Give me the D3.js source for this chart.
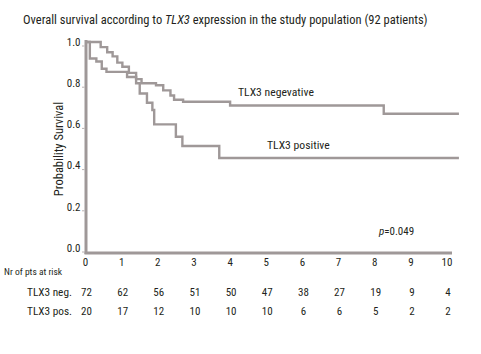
<!DOCTYPE html>
<html><head><meta charset="utf-8">
<script src="https://cdn.jsdelivr.net/npm/d3@7"></script>
<style>
body{margin:0;background:#fff;}
text{font-family:"Liberation Sans Narrow","Arial Narrow","Roboto Condensed",sans-serif;fill:#231f20;}
</style></head><body>
<svg id="c" width="481" height="354"></svg>
<script>
const yearTicks = [0,1,2,3,4,5,6,7,8,9,10];
const survTicks = [0.0,0.2,0.4,0.6,0.8,1.0];
const negTimes = [0,0.42,0.6,0.75,0.88,1.02,1.2,1.4,1.55,1.95,2.15,2.35,2.45,2.7,4.0,8.25,10.33];
const negSurv  = [1.0,0.975,0.95,0.93,0.90,0.88,0.85,0.82,0.80,0.79,0.765,0.74,0.72,0.71,0.692,0.652,0.652];
const posTimes = [0,0.12,0.3,0.45,0.58,1.15,1.4,1.5,1.7,1.85,1.9,2.5,2.68,3.7,10.33];
const posSurv  = [1.0,0.92,0.905,0.87,0.855,0.83,0.80,0.75,0.705,0.67,0.60,0.54,0.495,0.437,0.437];
const atRiskNeg = [72,62,56,51,50,47,38,27,19,9,4];
const atRiskPos = [20,17,12,10,10,10,6,6,5,2,2];

const svg = d3.select("#c");
const x = d3.scaleLinear().domain([0,10]).range([85.5,447]);
const y = d3.scaleLinear().domain([0,1]).range([248,42]);
const lineCol = "#9f9898";

svg.append("text").attr("x",23).attr("y",24).attr("font-size",12.5)
  .html('Overall survival according to <tspan font-style="italic">TLX3</tspan> expression in the study population (92 patients)');

svg.append("line").attr("x1",86).attr("x2",86).attr("y1",40).attr("y2",254)
  .attr("stroke",lineCol).attr("stroke-width",3);
svg.append("line").attr("x1",84.5).attr("x2",452).attr("y1",253).attr("y2",253)
  .attr("stroke",lineCol).attr("stroke-width",3);

survTicks.forEach(v=>{
  svg.append("text").attr("x",80.5).attr("y",y(v)).attr("dy","0.35em")
    .attr("text-anchor","end").attr("font-size",11).text(v.toFixed(1));
  svg.append("line").attr("x1",82).attr("x2",84.5).attr("y1",y(v)+4).attr("y2",y(v)+4)
    .attr("stroke","#b8b2b2").attr("stroke-width",1);
});
yearTicks.forEach(v=>{
  svg.append("text").attr("x",x(v)).attr("y",262).attr("dy","0.35em")
    .attr("text-anchor","middle").attr("font-size",11).text(v);
});

svg.append("text").attr("transform","translate(63,149) rotate(-90)")
  .attr("text-anchor","middle").attr("font-size",12.5).text("Probability Survival");

const line = d3.line().x(d=>x(d[0])).y(d=>y(d[1])).curve(d3.curveStepAfter);
const neg = negTimes.map((t,i)=>[t,negSurv[i]]);
const pos = posTimes.map((t,i)=>[t,posSurv[i]]);
[pos,neg].forEach(d=>{
  svg.append("path").attr("d",line(d)).attr("fill","none")
    .attr("stroke",lineCol).attr("stroke-width",2.4);
});

svg.append("text").attr("x",238).attr("y",92).attr("dy","0.35em").attr("font-size",11.7).text("TLX3 negevative");
svg.append("text").attr("x",267).attr("y",145).attr("dy","0.35em").attr("font-size",11.7).text("TLX3 positive");
svg.append("text").attr("x",379).attr("y",231.5).attr("dy","0.35em").attr("font-size",11)
  .html('<tspan font-style="italic">p</tspan>=0.049');

svg.append("text").attr("x",4).attr("y",271.5).attr("dy","0.35em").attr("font-size",9.5).text("Nr of pts at risk");
svg.append("text").attr("x",27).attr("y",292).attr("dy","0.35em").attr("font-size",11.3).text("TLX3 neg.");
svg.append("text").attr("x",27).attr("y",311).attr("dy","0.35em").attr("font-size",11.3).text("TLX3 pos.");
atRiskNeg.forEach((v,i)=>{
  svg.append("text").attr("x",x(yearTicks[i])+1).attr("y",292).attr("dy","0.35em")
    .attr("text-anchor","middle").attr("font-size",11).text(v);
});
atRiskPos.forEach((v,i)=>{
  svg.append("text").attr("x",x(yearTicks[i])+1).attr("y",311).attr("dy","0.35em")
    .attr("text-anchor","middle").attr("font-size",11).text(v);
});
</script></body></html>
